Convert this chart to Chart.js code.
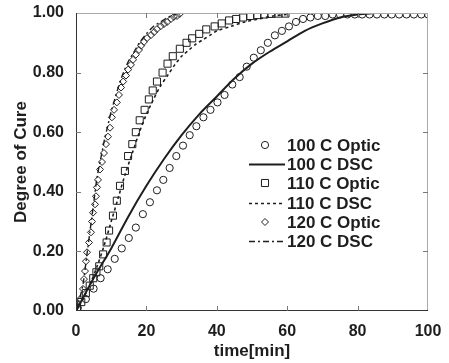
<!DOCTYPE html>
<html>
<head>
<meta charset="utf-8">
<script src="https://cdn.jsdelivr.net/npm/chart.js@4.4.1/dist/chart.umd.min.js"></script>
<style>
html, body { margin: 0; padding: 0; background: #fff; }
#wrap { width: 449px; height: 363px; }
</style>
</head>
<body>
<div id="wrap"><canvas id="chart" width="449" height="363"></canvas></div>
<script>
// Achsen
const xTicks = [0, 20, 40, 60, 80, 100];
const yTicks = [0, 0.2, 0.4, 0.6, 0.8, 1.0];

// 100 C Optic (Kreise)
const t100Optic = [0.5, 2.8, 5, 7, 9, 11, 13, 15, 17, 19, 21, 23, 24.8, 26.6, 28.5, 30.4, 32.3, 34.2, 36.2, 38.2,
    40.2, 42.2, 44.4, 46.5, 48.5, 50.5, 52.5, 54.5, 56.5, 58.5, 60.5, 62.5, 64.5, 66.6, 68.7, 70.8, 72.9, 75, 77.1,
    79.2, 81.3, 83.4, 85.5, 87.6, 89.7, 91.8, 93.9, 96, 98.1, 100];
const y100Optic = [0.01, 0.04, 0.075, 0.11, 0.14, 0.175, 0.21, 0.245, 0.28, 0.325, 0.365, 0.405, 0.44, 0.48, 0.52,
    0.555, 0.59, 0.62, 0.65, 0.675, 0.70, 0.725, 0.76, 0.785, 0.82, 0.85, 0.875, 0.90, 0.925, 0.94, 0.955, 0.97,
    0.98, 0.985, 0.99, 0.99, 0.995, 0.995, 0.995, 0.995, 0.995, 0.995, 0.995, 0.995, 0.995, 0.995, 0.995, 0.995,
    0.995, 0.995];

// 100 C DSC (durchgezogen)
const t100Dsc = [0, 5, 10, 15, 20, 25, 30, 35, 40, 45, 50, 55, 60, 65, 70, 75, 80, 85];
const y100Dsc = [0, 0.11, 0.21, 0.32, 0.42, 0.51, 0.59, 0.66, 0.72, 0.78, 0.83, 0.87, 0.905, 0.94, 0.965, 0.985, 0.995, 1.0];

// 110 C Optic (Quadrate)
const t110Optic = [0.3, 1.5, 2.8, 3.9, 4.9, 5.8, 6.6, 7.7, 8.7, 9.4, 10.5, 11.6, 12.5, 13.9, 14.8, 16, 17, 18.1,
    19.5, 20.7, 21.8, 23, 24.6, 26, 27.5, 29.5, 31.4, 33, 35, 37, 39.4, 41.4, 43.5, 45.5, 47.5, 49.5, 51.5, 53.5,
    55.5, 57.5, 59.5];
const y110Optic = [0.01, 0.03, 0.06, 0.085, 0.11, 0.13, 0.15, 0.19, 0.23, 0.27, 0.32, 0.37, 0.42, 0.47, 0.52, 0.56,
    0.60, 0.64, 0.675, 0.71, 0.74, 0.77, 0.80, 0.83, 0.855, 0.88, 0.90, 0.915, 0.93, 0.945, 0.955, 0.965, 0.975,
    0.98, 0.985, 0.99, 0.993, 0.995, 0.997, 0.998, 0.998];

// 110 C DSC (gestrichelt)
const t110Dsc = [0, 2, 4, 6, 8, 10, 12, 14, 16, 18, 20, 22, 24, 26, 28, 30, 32, 34, 36, 38, 40, 44, 48, 52, 56, 60];
const y110Dsc = [0, 0.04, 0.09, 0.15, 0.22, 0.30, 0.38, 0.46, 0.53, 0.60, 0.66, 0.71, 0.755, 0.79, 0.825, 0.855,
    0.875, 0.895, 0.91, 0.925, 0.94, 0.955, 0.97, 0.98, 0.99, 0.995];

// 120 C Optic (Rauten)
const t120Optic = [0.28, 1.14, 1.99, 2.27, 2.56, 2.84, 3.13, 3.69, 4.26, 4.55, 4.83, 5.4, 5.68, 5.97, 6.25, 6.82,
    7.39, 7.95, 8.52, 9.09, 9.66, 10.2, 10.8, 11.6, 12.2, 12.8, 13.4, 14.2, 14.8, 15.6, 16.2, 17.0, 17.9, 18.5,
    19.3, 20.2, 21.3, 22.2, 23.0, 24.1, 25.0, 25.9, 27.0, 27.8, 28.7, 29.5];
const y120Optic = [0.017, 0.04, 0.074, 0.107, 0.134, 0.167, 0.197, 0.23, 0.264, 0.30, 0.33, 0.358, 0.385, 0.415,
    0.44, 0.475, 0.50, 0.53, 0.56, 0.585, 0.615, 0.65, 0.675, 0.70, 0.725, 0.75, 0.77, 0.79, 0.81, 0.826, 0.843,
    0.86, 0.876, 0.89, 0.903, 0.916, 0.926, 0.936, 0.946, 0.956, 0.963, 0.97, 0.98, 0.987, 0.99, 0.997, 1.0];

// 120 C DSC (Strich-Punkt)
const t120Dsc = [0, 1, 2, 3, 4, 5, 6, 7, 8, 9, 10, 11, 12, 13, 14, 15, 16, 17, 18, 20, 22, 24, 26, 28, 29.5];
const y120Dsc = [0, 0.04, 0.09, 0.18, 0.27, 0.36, 0.45, 0.51, 0.57, 0.62, 0.67, 0.71, 0.75, 0.785, 0.815, 0.84,
    0.86, 0.88, 0.90, 0.93, 0.955, 0.97, 0.985, 0.995, 1.0];

const schwarz = '#1e1e1e';
const schrift = "'Liberation Sans', Arial, sans-serif";

function punkte(xs, ys) {
    return xs.map((x, i) => ({ x: x, y: ys[i] }));
}

function optik(label, xs, ys, stil, radius) {
    return {
        label: label,
        data: punkte(xs, ys),
        showLine: false,
        pointStyle: stil,
        pointRadius: radius,
        pointBorderWidth: 1,
        pointBackgroundColor: 'rgba(0,0,0,0)',
        pointBorderColor: schwarz,
        borderColor: schwarz
    };
}

function dsc(label, xs, ys, dash, breite) {
    return {
        label: label,
        data: punkte(xs, ys),
        showLine: true,
        pointRadius: 0,
        borderColor: schwarz,
        borderWidth: breite,
        borderDash: dash,
        tension: 0.3
    };
}

const datensaetze = [
    optik('100 C Optic', t100Optic, y100Optic, 'circle', 3.6),
    dsc('100 C DSC', t100Dsc, y100Dsc, [], 2),
    optik('110 C Optic', t110Optic, y110Optic, 'rect', 5),
    dsc('110 C DSC', t110Dsc, y110Dsc, [3, 3], 1.6),
    optik('120 C Optic', t120Optic, y120Optic, 'rectRot', 3.5),
    dsc('120 C DSC', t120Dsc, y120Dsc, [6, 3, 2, 3], 1.4)
];

// Rahmen mit innenliegenden Strichen und Legende im Diagramm
const rahmenPlugin = {
    id: 'rahmen',
    afterDraw(chart) {
        const ctx = chart.ctx;
        const a = chart.chartArea;
        const sx = chart.scales.x, sy = chart.scales.y;
        ctx.save();
        ctx.lineWidth = 1;
        ctx.strokeStyle = '#aaa';
        ctx.beginPath();
        ctx.moveTo(a.left, a.top + 0.5); ctx.lineTo(a.right, a.top + 0.5);
        ctx.moveTo(a.right - 0.5, a.top); ctx.lineTo(a.right - 0.5, a.bottom);
        ctx.stroke();
        ctx.strokeStyle = '#333';
        ctx.beginPath();
        ctx.moveTo(a.left + 0.5, a.top); ctx.lineTo(a.left + 0.5, a.bottom);
        ctx.moveTo(a.left, a.bottom - 0.5); ctx.lineTo(a.right, a.bottom - 0.5);
        ctx.stroke();
        ctx.strokeStyle = '#777';
        ctx.beginPath();
        xTicks.slice(1, -1).forEach(v => {
            const px = Math.round(sx.getPixelForValue(v)) + 0.5;
            ctx.moveTo(px, a.bottom); ctx.lineTo(px, a.bottom - 5);
            ctx.moveTo(px, a.top); ctx.lineTo(px, a.top + 5);
        });
        yTicks.slice(1, -1).forEach(v => {
            const py = Math.round(sy.getPixelForValue(v)) + 0.5;
            ctx.moveTo(a.left, py); ctx.lineTo(a.left + 5, py);
            ctx.moveTo(a.right, py); ctx.lineTo(a.right - 5, py);
        });
        ctx.stroke();

        // Legende
        const symX = a.left + 189;
        const textX = a.left + 211;
        const y0 = a.top + 132;
        const dy = 19.2;
        ctx.font = 'bold 17px ' + schrift;
        ctx.fillStyle = schwarz;
        ctx.textBaseline = 'middle';
        ctx.textAlign = 'left';
        chart.data.datasets.forEach((ds, i) => {
            const y = Math.round(y0 + i * dy);
            ctx.strokeStyle = schwarz;
            if (ds.showLine) {
                ctx.lineWidth = ds.borderWidth;
                ctx.setLineDash(ds.borderDash);
                ctx.beginPath();
                ctx.moveTo(symX - 16, y + 0.5);
                ctx.lineTo(symX + 20, y + 0.5);
                ctx.stroke();
                ctx.setLineDash([]);
            } else {
                ctx.lineWidth = 1;
                ctx.beginPath();
                const r = ds.pointRadius;
                if (ds.pointStyle === 'circle') {
                    ctx.arc(symX, y, r, 0, Math.PI * 2);
                } else if (ds.pointStyle === 'rect') {
                    const s = r * Math.SQRT1_2;
                    ctx.rect(symX - s, y - s, 2 * s, 2 * s);
                } else {
                    ctx.moveTo(symX - r, y); ctx.lineTo(symX, y - r);
                    ctx.lineTo(symX + r, y); ctx.lineTo(symX, y + r);
                    ctx.closePath();
                }
                ctx.stroke();
            }
            ctx.fillText(ds.label, textX, y + 1);
        });
        ctx.restore();
    }
};

new Chart(document.getElementById('chart'), {
    type: 'scatter',
    data: { datasets: datensaetze },
    options: {
        responsive: false,
        animation: false,
        devicePixelRatio: 1,
        layout: { padding: { top: 13, right: 21, left: 0, bottom: 0 } },
        plugins: {
            legend: { display: false },
            tooltip: { enabled: false }
        },
        scales: {
            x: {
                type: 'linear',
                min: 0,
                max: 100,
                afterFit: s => { s.height = 52; s.paddingLeft = 0; s.paddingRight = 0; },
                afterBuildTicks: s => { s.ticks = xTicks.map(v => ({ value: v })); },
                grid: { display: false, drawTicks: false },
                border: { display: false },
                ticks: {
                    padding: 11,
                    color: schwarz,
                    font: { family: schrift, size: 16, weight: 'bold' },
                    maxRotation: 0
                },
                title: {
                    display: true,
                    text: 'time[min]',
                    color: schwarz,
                    font: { family: schrift, size: 17, weight: 'bold' },
                    padding: { top: 0, bottom: 1 }
                }
            },
            y: {
                type: 'linear',
                min: 0,
                max: 1,
                afterFit: s => { s.width = 76; s.paddingTop = 0; s.paddingBottom = 0; },
                afterBuildTicks: s => { s.ticks = yTicks.map(v => ({ value: v })); },
                grid: { display: false, drawTicks: false },
                border: { display: false },
                ticks: {
                    padding: 12,
                    color: schwarz,
                    font: { family: schrift, size: 16, weight: 'bold' },
                    callback: v => v.toFixed(2)
                },
                title: {
                    display: true,
                    text: 'Degree of Cure',
                    color: schwarz,
                    font: { family: schrift, size: 17, weight: 'bold' },
                    padding: { top: 11, bottom: 0 }
                }
            }
        }
    },
    plugins: [rahmenPlugin]
});
</script>
</body>
</html>
